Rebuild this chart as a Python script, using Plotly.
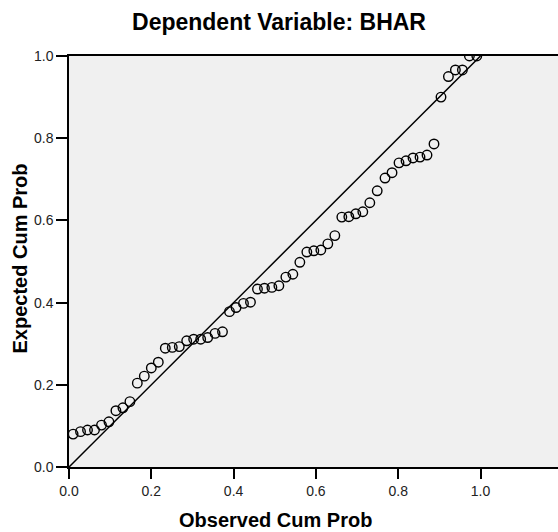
import plotly.graph_objects as go

# Observed vs expected cumulative probabilities (P-P plot of residuals)
obs_cum_prob = [0.010, 0.028, 0.045, 0.062, 0.079, 0.097, 0.114, 0.131, 0.148, 0.166,
                0.183, 0.200, 0.217, 0.234, 0.251, 0.268, 0.286, 0.303, 0.320, 0.337,
                0.355, 0.373, 0.390, 0.406, 0.424, 0.441, 0.458, 0.475, 0.493, 0.510,
                0.527, 0.544, 0.561, 0.578, 0.595, 0.612, 0.629, 0.646, 0.663, 0.680,
                0.697, 0.714, 0.731, 0.749, 0.768, 0.785, 0.802, 0.819, 0.836, 0.853,
                0.870, 0.887, 0.904, 0.922, 0.939, 0.956, 0.973, 0.991]
exp_cum_prob = [0.080, 0.086, 0.090, 0.090, 0.102, 0.110, 0.137, 0.144, 0.159, 0.204,
                0.221, 0.241, 0.255, 0.289, 0.291, 0.293, 0.307, 0.311, 0.311, 0.315,
                0.325, 0.329, 0.378, 0.388, 0.398, 0.401, 0.433, 0.435, 0.437, 0.441,
                0.462, 0.469, 0.498, 0.523, 0.526, 0.528, 0.543, 0.563, 0.608, 0.609,
                0.616, 0.621, 0.643, 0.672, 0.703, 0.716, 0.740, 0.745, 0.752, 0.754,
                0.759, 0.786, 0.900, 0.950, 0.966, 0.966, 1.000, 1.000]

ref_line_x = [0.0, 1.0]
ref_line_y = [0.0, 1.0]

tick_vals = [0.0, 0.2, 0.4, 0.6, 0.8, 1.0]
tick_text = ["0.0", "0.2", "0.4", "0.6", "0.8", "1.0"]

title_text = "Dependent Variable: BHAR"
x_title = "Observed Cum Prob"
y_title = "Expected Cum Prob"

FONT = "Liberation Sans, Arial, sans-serif"

fig = go.Figure()
fig.add_trace(go.Scatter(
    x=ref_line_x, y=ref_line_y, mode="lines",
    line=dict(color="black", width=1.5), hoverinfo="skip", showlegend=False))
fig.add_trace(go.Scatter(
    x=obs_cum_prob, y=exp_cum_prob, mode="markers",
    marker=dict(symbol="circle-open", size=9.5, color="black",
                line=dict(color="black", width=1.4)),
    showlegend=False))

fig.update_layout(
    width=558, height=532, autosize=False,
    margin=dict(l=69, r=0, t=56, b=65, pad=0),
    paper_bgcolor="white", plot_bgcolor="#f0f0f0",
    font=dict(family=FONT, color="#222222", size=14),
    title=dict(text=title_text, x=0.5, xref="container", xanchor="center",
               y=1 - 22 / 532, yref="container", yanchor="middle",
               font=dict(family=FONT, size=23, color="black", weight="bold")),
    xaxis=dict(range=[0, 489 / 411.5], tickvals=tick_vals, ticktext=tick_text,
               showgrid=False, zeroline=False, showline=True, linecolor="black",
               linewidth=1.5, mirror=True, ticks="outside", ticklen=10,
               tickcolor="black", tickwidth=1.5,
               tickfont=dict(family=FONT, size=14, color="#222222")),
    yaxis=dict(range=[0, 1], tickvals=tick_vals, ticktext=tick_text,
               showgrid=False, zeroline=False, showline=True, linecolor="black",
               linewidth=1.5, ticks="outside", ticklen=11,
               tickcolor="black", tickwidth=1.5,
               tickfont=dict(family=FONT, size=14, color="#222222")),
    annotations=[
        dict(text=x_title, xref="paper", yref="paper",
             x=(275 - 69) / 489, y=-(520 - 467) / 411,
             xanchor="center", yanchor="middle", showarrow=False,
             font=dict(family=FONT, size=20, color="black", weight="bold")),
        dict(text=y_title, xref="paper", yref="paper",
             x=(19 - 69) / 489, y=(467 - 258.5) / 411, textangle=-90,
             xanchor="center", yanchor="middle", showarrow=False,
             font=dict(family=FONT, size=20, color="black", weight="bold")),
    ],
)

fig.write_html("out.html",
               config={"displayModeBar": False},
               post_script="document.body.style.margin='0';document.body.style.padding='0';")
